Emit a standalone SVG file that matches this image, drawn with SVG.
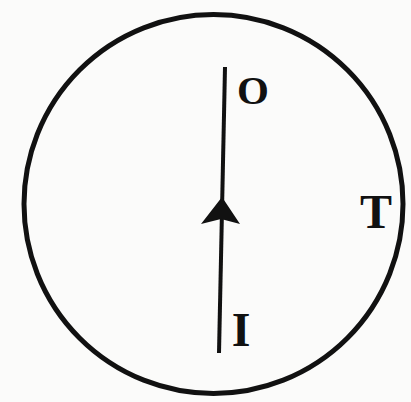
<svg xmlns="http://www.w3.org/2000/svg" width="411" height="402" viewBox="0 0 411 402">
<style>
.lbl{font-family:"Liberation Serif","DejaVu Serif",serif;font-weight:bold;fill:#111;text-anchor:middle}
.ln{stroke:#111;fill:none}
</style>
<rect width="411" height="402" fill="#fbfbfa"/>
<g id="circle-T">
<circle cx="213.5" cy="204" r="189.5" class="ln" stroke-width="5"/>
<text class="lbl" x="376" y="228" font-size="48">T</text>
</g>
<g id="connectors">
<line x1="225" y1="67" x2="219" y2="353" class="ln" stroke-width="4"/>
<polygon points="222,197 240,224 221,219 201,224" fill="#111"/>
</g>
<g id="label-O"><text class="lbl" x="253" y="104" font-size="41">O</text></g>
<g id="label-I"><text class="lbl" x="241" y="346" font-size="48">I</text></g>
</svg>
